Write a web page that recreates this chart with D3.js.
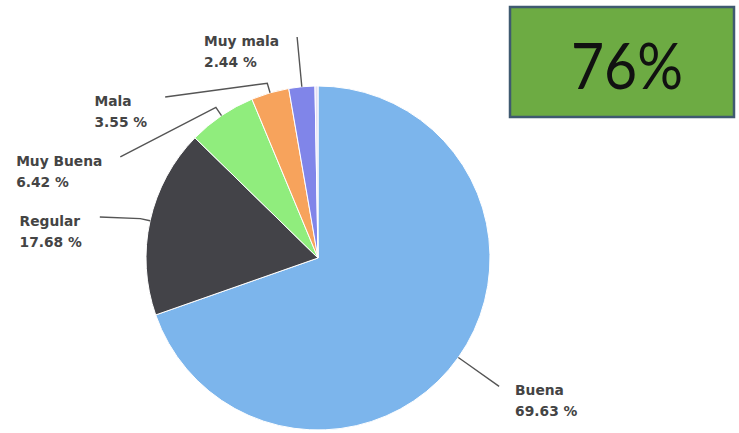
<!DOCTYPE html>
<html>
<head>
<meta charset="utf-8">
<script src="https://cdn.jsdelivr.net/npm/d3@7"></script>
<style>
  body { margin: 0; background: #fff; }
  svg { display: block; }
</style>
</head>
<body>
<div id="chart"></div>
<script>
// slices, in drawing order (clockwise from 12 o'clock)
const categories = ["Buena", "Regular", "Muy Buena", "Mala", "Muy mala", ""];
const percents = [69.63, 17.68, 6.42, 3.55, 2.44, 0.28];
const colors = ["#7cb5ec", "#434348", "#90ed7d", "#f7a35c", "#8085e9", "#e4ddf4"];

// the figure shown in the green box
const highlight = "76%";

const width = 739;
const height = 433;
const cx = 318, cy = 258;
const radius = 172;

const svg = d3.select("#chart")
  .append("svg")
  .attr("width", width)
  .attr("height", height);

const pie = d3.pie()
  .sort(null)
  .value(d => d.value);

const slices = pie(categories.map((c, i) => ({ name: c, value: percents[i], color: colors[i] })));

const arc = d3.arc()
  .innerRadius(0)
  .outerRadius(radius);

const g = svg.append("g")
  .attr("transform", `translate(${cx},${cy})`);

g.selectAll("path")
  .data(slices)
  .enter()
  .append("path")
  .attr("d", arc)
  .attr("fill", d => d.data.color)
  .attr("stroke", "#fff")
  .attr("stroke-width", 1)
  .attr("stroke-linejoin", "round");

// --- data labels, roughly the way highcharts spreads them ---
const labelR = radius + 50;
const minGap = 60;

function polar(a, r) {
  return [Math.sin(a) * r, -Math.cos(a) * r];
}

const labels = slices.filter(d => d.data.name !== "").map(d => {
  const mid = (d.startAngle + d.endAngle) / 2;
  const p = polar(mid, labelR);
  return { d: d, mid: mid, x: p[0], y: p[1], left: p[0] < 0 };
});

// push overlapping labels down on each side
[true, false].forEach(side => {
  const list = labels.filter(l => l.left === side).sort((a, b) => a.y - b.y);
  for (let i = 1; i < list.length; i++) {
    if (list[i].y < list[i - 1].y + minGap) {
      list[i].y = list[i - 1].y + minGap;
      const dx = Math.sqrt(Math.max(0, labelR * labelR - list[i].y * list[i].y));
      list[i].x = side ? -dx : dx;
    }
  }
});

labels.forEach(l => {
  const edge = polar(l.mid, radius);
  const bend = polar(l.mid, radius + 10);

  g.append("path")
    .attr("d", d3.line()([[l.x, l.y], bend, edge]))
    .attr("fill", "none")
    .attr("stroke", "#555")
    .attr("stroke-width", 1.4);

  const txt = g.append("text")
    .attr("font-family", "DejaVu Sans, sans-serif")
    .attr("font-size", 13.8)
    .attr("font-weight", "bold")
    .attr("fill", "#444");

  txt.append("tspan").text(l.d.data.name);
  txt.append("tspan").text(l.d.data.value.toFixed(2) + " %");

  const tspans = txt.selectAll("tspan").nodes();
  const w = d3.max(tspans, n => n.getComputedTextLength());
  const x0 = l.left ? l.x - 18 - w : l.x + 16;
  d3.select(tspans[0]).attr("x", x0).attr("y", l.y + 9);
  d3.select(tspans[1]).attr("x", x0).attr("y", l.y + 29.5);
});

// green box top right
svg.append("rect")
  .attr("x", 510)
  .attr("y", 7)
  .attr("width", 224)
  .attr("height", 110)
  .attr("fill", "#6dab43")
  .attr("stroke", "#3f5a70")
  .attr("stroke-width", 2.5);

svg.append("text")
  .attr("x", 627)
  .attr("y", 89)
  .attr("text-anchor", "middle")
  .attr("font-family", "Lato, Open Sans, sans-serif")
  .attr("font-size", 64)
  .attr("textLength", 112)
  .attr("lengthAdjust", "spacingAndGlyphs")
  .attr("fill", "#111")
  .text(highlight);
</script>
</body>
</html>
